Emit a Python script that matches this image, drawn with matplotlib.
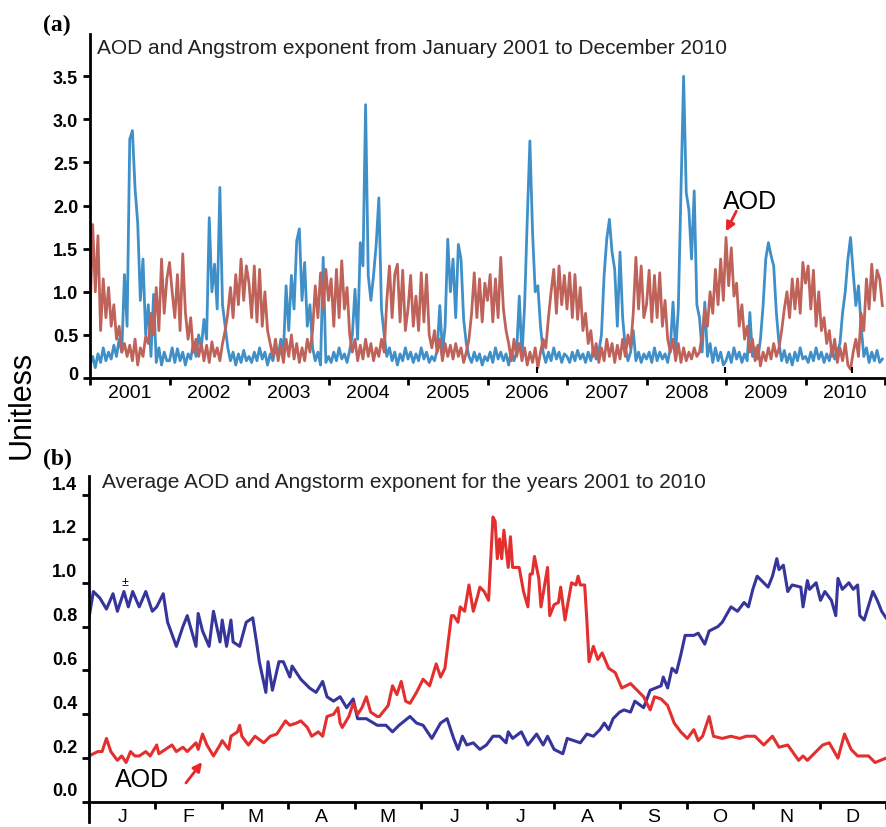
import numpy as np
import matplotlib
matplotlib.use('Agg')
from matplotlib import pyplot as plt
from matplotlib.transforms import ScaledTranslation

plt.rcParams['font.family'] = ['Liberation Sans', 'DejaVu Sans']

""" Data """

# panel (a): readings of the daily series, 30 per year (one row per year)
first_year = 2001
per_year = 30
ang_daily = [
    0.15, 0.25, 0.12, 0.28, 0.18, 0.35, 0.20, 0.30, 0.22, 0.38, 0.25, 0.45, 0.30, 1.20, 0.60, 2.77, 2.87, 2.20, 1.80, 0.90, 1.38, 0.50, 0.85, 0.25, 0.97, 0.18, 0.35, 0.15, 0.30, 0.20,
    0.20, 0.35, 0.18, 0.34, 0.20, 0.30, 0.15, 0.28, 0.22, 0.40, 0.25, 0.50, 0.35, 0.68, 0.45, 1.86, 1.00, 1.32, 0.80, 2.21, 0.85, 0.60, 0.35, 0.20, 0.30, 0.15, 0.28, 0.18, 0.32, 0.20,
    0.25, 0.18, 0.30, 0.20, 0.35, 0.22, 0.30, 0.15, 0.28, 0.20, 0.35, 0.25, 0.45, 0.30, 1.07, 0.55, 1.19, 0.80, 1.59, 1.73, 0.90, 1.34, 0.60, 0.85, 0.35, 0.20, 0.30, 0.15, 1.40, 0.18,
    0.25, 0.18, 0.30, 0.20, 0.35, 0.22, 0.28, 0.18, 0.32, 0.50, 1.03, 0.45, 1.57, 1.30, 3.17, 1.19, 0.90, 1.19, 1.55, 2.09, 0.80, 0.50, 0.25, 0.35, 0.20, 0.30, 0.15, 0.28, 0.20, 0.35,
    0.22, 0.30, 0.18, 0.28, 0.20, 0.35, 0.22, 0.30, 0.18, 0.25, 0.20, 0.32, 0.84, 0.30, 0.60, 1.61, 1.00, 1.38, 0.70, 1.55, 1.38, 0.68, 0.40, 0.25, 0.18, 0.30, 0.20, 0.28, 0.15, 0.25,
    0.20, 0.30, 0.18, 0.35, 0.22, 0.30, 0.20, 0.28, 0.15, 0.32, 0.20, 0.30, 0.95, 0.25, 0.84, 1.84, 2.75, 1.69, 1.00, 1.07, 0.60, 0.30, 0.18, 0.30, 0.20, 0.35, 0.22, 0.30, 0.18, 0.28,
    0.25, 0.18, 0.30, 0.20, 0.32, 0.22, 0.28, 0.18, 0.30, 0.20, 0.35, 0.22, 0.30, 0.50, 1.19, 1.61, 1.84, 1.46, 1.26, 0.60, 1.46, 0.70, 0.35, 0.20, 0.30, 0.55, 0.20, 0.30, 0.18, 0.28,
    0.22, 0.30, 0.18, 0.35, 0.20, 0.30, 0.22, 0.28, 0.18, 0.35, 0.88, 0.30, 0.80, 2.17, 3.50, 2.15, 1.95, 1.38, 2.17, 0.85, 0.70, 0.30, 0.88, 0.25, 0.40, 0.18, 0.35, 0.20, 0.30, 0.15,
    0.20, 0.30, 0.18, 0.35, 0.22, 0.30, 0.18, 0.28, 0.20, 0.76, 0.25, 0.35, 0.22, 0.45, 0.84, 1.38, 1.57, 1.42, 1.30, 0.76, 0.40, 0.20, 0.32, 0.18, 0.28, 0.15, 0.30, 0.20, 0.35, 0.22,
    0.25, 0.18, 0.30, 0.20, 0.35, 0.22, 0.30, 0.18, 0.28, 0.20, 0.35, 0.22, 0.30, 0.40, 0.76, 1.00, 1.38, 1.63, 1.22, 0.84, 1.07, 0.60, 0.25, 0.35, 0.18, 0.30, 0.20, 0.32, 0.18, 0.22,
]
aod_daily = [
    0.70, 1.78, 1.00, 1.65, 0.55, 1.15, 0.70, 1.05, 0.60, 0.85, 0.45, 0.60, 0.30, 0.40, 0.25, 0.38, 0.20, 0.45, 0.15, 0.35, 0.25, 0.48, 0.40, 0.75, 0.50, 1.05, 0.55, 1.38, 0.75, 1.15,
    1.34, 1.00, 0.70, 1.20, 0.55, 1.44, 0.76, 0.45, 0.70, 0.30, 0.45, 0.25, 0.40, 0.20, 0.38, 0.18, 0.42, 0.25, 0.35, 0.20, 0.40, 0.55, 0.75, 1.05, 0.70, 1.20, 0.85, 1.38, 0.90, 1.30,
    1.10, 0.70, 1.30, 0.65, 1.26, 0.60, 1.00, 0.55, 0.40, 0.25, 0.45, 0.20, 0.38, 0.18, 0.45, 0.25, 0.50, 0.22, 0.40, 0.18, 0.35, 0.20, 0.45, 0.30, 0.55, 1.07, 0.70, 1.22, 0.80, 1.26,
    0.90, 1.15, 0.60, 1.26, 0.70, 1.36, 0.80, 1.05, 0.50, 0.30, 0.45, 0.20, 0.38, 0.22, 0.45, 0.25, 0.40, 0.20, 0.35, 0.25, 0.45, 0.30, 0.90, 1.30, 0.70, 1.20, 1.32, 0.65, 1.25, 0.55,
    0.80, 1.19, 0.60, 0.95, 0.55, 1.22, 0.65, 1.20, 0.50, 0.35, 0.55, 0.30, 0.45, 0.20, 0.40, 0.25, 0.38, 0.22, 0.40, 0.25, 0.35, 0.18, 0.30, 0.45, 0.75, 1.22, 0.70, 1.15, 0.65, 1.10,
    0.90, 1.20, 0.65, 1.15, 0.70, 1.40, 0.80, 0.55, 0.40, 0.20, 0.45, 0.25, 0.40, 0.20, 0.35, 0.15, 0.30, 0.18, 0.35, 0.12, 0.30, 0.45, 0.35, 0.70, 1.00, 1.26, 0.75, 1.30, 0.85, 1.19,
    0.80, 1.22, 0.70, 1.20, 0.68, 1.05, 0.55, 0.75, 0.40, 0.55, 0.25, 0.40, 0.18, 0.35, 0.20, 0.45, 0.25, 0.40, 0.18, 0.38, 0.22, 0.45, 0.25, 0.50, 0.35, 0.75, 1.40, 0.80, 1.30, 0.70,
    0.85, 1.25, 0.65, 1.19, 0.70, 1.22, 0.60, 0.90, 0.45, 0.30, 0.45, 0.20, 0.40, 0.18, 0.35, 0.20, 0.30, 0.22, 0.35, 0.25, 0.30, 0.50, 0.80, 0.60, 1.00, 0.75, 1.26, 0.85, 1.38, 0.90,
    1.63, 1.07, 1.51, 0.95, 1.10, 0.60, 0.85, 0.45, 0.60, 0.30, 0.45, 0.20, 0.38, 0.14, 0.30, 0.20, 0.35, 0.22, 0.40, 0.25, 0.35, 0.55, 0.80, 1.00, 0.70, 1.15, 0.80, 1.15, 0.75, 1.34,
    1.10, 1.30, 0.80, 1.25, 0.60, 1.00, 0.55, 0.70, 0.40, 0.55, 0.25, 0.45, 0.18, 0.35, 0.20, 0.40, 0.15, 0.10, 0.30, 0.45, 0.25, 0.75, 0.55, 1.15, 0.80, 1.32, 0.90, 1.25, 1.15, 0.84,
]
mark_years = [2006.62, 2008.99, 2010.58]  # small black marks near the x axis

# panel (b): average year, day of year and value
ang_day = [0, 2, 5, 8, 11, 13, 16, 18, 20, 23, 26, 29, 31, 34, 36, 40, 43, 45, 49, 50,
           52, 55, 57, 60, 61, 63, 65, 66, 69, 72, 75, 77, 78, 81, 82, 84, 87, 89, 92, 93,
           97, 101, 104, 107, 109, 112, 115, 118, 121, 123, 127, 132, 136, 139, 142, 147, 150, 153, 157, 161,
           164, 167, 169, 171, 173, 176, 179, 182, 185, 188, 191, 192, 194, 198, 201, 205, 208, 210, 213, 217,
           219, 222, 225, 228, 231, 234, 236, 238, 240, 243, 245, 248, 250, 254, 257, 262, 263, 265, 267, 269,
           271, 273, 277, 279, 282, 284, 288, 290, 294, 297, 300, 302, 304, 306, 309, 311, 313, 315, 316, 318,
           320, 322, 326, 327, 329, 330, 333, 335, 337, 340, 342, 343, 345, 348, 350, 352, 353, 355, 359, 361,
           363, 365]
ang_mean = [0.84, 0.96, 0.93, 0.88, 0.95, 0.87, 0.96, 0.89, 0.96, 0.89, 0.96, 0.87, 0.89, 0.95, 0.82, 0.71, 0.80, 0.85, 0.71, 0.86,
            0.78, 0.71, 0.87, 0.73, 0.83, 0.71, 0.83, 0.73, 0.71, 0.82, 0.84, 0.71, 0.64, 0.50, 0.64, 0.51, 0.64, 0.64, 0.57, 0.62,
            0.56, 0.52, 0.50, 0.55, 0.48, 0.46, 0.48, 0.43, 0.47, 0.38, 0.38, 0.35, 0.35, 0.32, 0.35, 0.39, 0.36, 0.35, 0.29, 0.36,
            0.38, 0.29, 0.24, 0.30, 0.26, 0.27, 0.24, 0.26, 0.30, 0.30, 0.27, 0.32, 0.29, 0.32, 0.26, 0.31, 0.26, 0.30, 0.24, 0.22,
            0.29, 0.28, 0.27, 0.31, 0.30, 0.33, 0.36, 0.33, 0.38, 0.41, 0.42, 0.41, 0.46, 0.43, 0.51, 0.53, 0.57, 0.52, 0.61, 0.59,
            0.67, 0.76, 0.76, 0.77, 0.72, 0.78, 0.80, 0.82, 0.89, 0.87, 0.91, 0.89, 0.97, 1.03, 1.00, 0.98, 1.03, 1.11, 1.06, 1.08,
            0.96, 0.99, 0.98, 0.89, 1.01, 0.97, 1.00, 0.92, 0.96, 0.92, 0.85, 1.02, 0.97, 1.00, 0.97, 0.99, 0.85, 0.83, 0.96, 0.92,
            0.87, 0.84]
aod_day = [0, 4, 6, 8, 10, 13, 15, 17, 19, 21, 23, 26, 28, 31, 32, 35, 38, 40, 43, 45,
           49, 50, 52, 54, 57, 60, 61, 64, 65, 68, 69, 70, 73, 76, 80, 83, 86, 90, 92, 95,
           97, 100, 102, 105, 107, 109, 112, 114, 115, 116, 119, 121, 123, 125, 127, 129, 132, 133, 137, 139,
           141, 143, 145, 147, 150, 153, 156, 159, 161, 163, 164, 166, 167, 169, 170, 172, 174, 176, 178, 179,
           181, 183, 185, 186, 187, 188, 189, 190, 192, 193, 194, 197, 199, 201, 202, 203, 204, 206, 207, 210,
           211, 213, 215, 216, 218, 219, 221, 223, 224, 225, 227, 228, 229, 231, 233, 235, 238, 241, 244, 248,
           251, 254, 257, 259, 262, 265, 268, 271, 274, 277, 279, 281, 284, 286, 290, 294, 298, 301, 305, 309,
           313, 316, 320, 325, 327, 329, 333, 336, 339, 343, 346, 349, 352, 354, 357, 360, 365]
aod_mean = [0.21, 0.23, 0.23, 0.29, 0.23, 0.19, 0.21, 0.18, 0.23, 0.21, 0.21, 0.23, 0.21, 0.26, 0.22, 0.24, 0.26, 0.23, 0.25, 0.23,
            0.27, 0.24, 0.31, 0.26, 0.21, 0.26, 0.28, 0.24, 0.30, 0.32, 0.35, 0.30, 0.26, 0.30, 0.27, 0.30, 0.31, 0.37, 0.35, 0.36,
            0.37, 0.34, 0.30, 0.32, 0.30, 0.39, 0.40, 0.43, 0.36, 0.34, 0.39, 0.45, 0.40, 0.43, 0.48, 0.41, 0.39, 0.39, 0.44, 0.53,
            0.49, 0.55, 0.46, 0.45, 0.50, 0.56, 0.53, 0.63, 0.57, 0.61, 0.69, 0.85, 0.85, 0.82, 0.89, 0.87, 0.99, 0.87, 0.94, 0.98,
            0.96, 0.92, 1.30, 1.28, 1.11, 1.20, 1.11, 1.24, 1.07, 1.21, 1.07, 1.07, 0.96, 0.89, 1.04, 1.04, 1.12, 1.02, 0.89, 1.07,
            0.85, 0.90, 0.91, 0.98, 0.83, 0.89, 1.00, 0.99, 1.03, 0.99, 0.99, 0.83, 0.64, 0.71, 0.65, 0.68, 0.61, 0.59, 0.52, 0.54,
            0.51, 0.48, 0.42, 0.48, 0.47, 0.44, 0.36, 0.32, 0.29, 0.33, 0.28, 0.30, 0.39, 0.30, 0.29, 0.30, 0.29, 0.30, 0.30, 0.26,
            0.30, 0.25, 0.26, 0.19, 0.21, 0.19, 0.23, 0.26, 0.27, 0.20, 0.31, 0.24, 0.21, 0.21, 0.21, 0.18, 0.20]

months = ['J', 'F', 'M', 'A', 'M', 'J', 'J', 'A', 'S', 'O', 'N', 'D']
ticks_a = [0, 0.5, 1.0, 1.5, 2.0, 2.5, 3.0, 3.5]
ticks_b = [0.0, 0.2, 0.4, 0.6, 0.8, 1.0, 1.2, 1.4]

""" Plot """

blue_a, red_a = '#3f8fc9', '#bf635a'
blue_b, red_b = '#35359b', '#e3302f'
arrow_red = '#e8262a'

fig = plt.figure(figsize=(8.87, 8.28), dpi=100)
ax1 = fig.add_axes([90 / 887, 1 - 379 / 828, 795 / 887, 344 / 828])
ax2 = fig.add_axes([89 / 887, 1 - 803 / 828, 797 / 887, 326 / 828])

for ax in (ax1, ax2):
    for side in ('top', 'right'):
        ax.spines[side].set_visible(False)
    for side in ('left', 'bottom'):
        ax.spines[side].set_linewidth(2.0)
    ax.tick_params(which='major', direction='out', length=5, width=2)
    ax.tick_params(which='minor', length=0, labelsize=14, pad=4)

# (a) ten years of daily data
t = first_year + np.arange(len(ang_daily)) / per_year
ax1.plot(t, ang_daily, color=blue_a, lw=2.0)
ax1.plot(t, aod_daily, color=red_a, lw=2.0)
ax1.vlines(mark_years, 0.06, 0.13, color='black', lw=1.5)
ax1.set_xlim(first_year, first_year + 10)
ax1.set_ylim(0, 3.99)
ax1.set_yticks(ticks_a)
ax1.set_yticklabels(['0' if v == 0 else f'{v:.1f}' for v in ticks_a], fontweight='bold', fontsize=13)
zero_lab = ax1.get_yticklabels()[0]
zero_lab.set_transform(zero_lab.get_transform() + ScaledTranslation(0, 5 / 100, fig.dpi_scale_trans))
ax1.set_xticks(np.arange(first_year, first_year + 11))
ax1.set_xticklabels([])
ax1.set_xticks(np.arange(first_year, first_year + 10) + 0.5, minor=True)
ax1.set_xticklabels([str(y) for y in range(first_year, first_year + 10)], minor=True)

ax1.text(2008.96, 2.05, 'AOD', fontsize=18, ha='left', va='center')
ax1.annotate('', xy=(2009.0, 1.70), xytext=(2009.13, 1.935),
             arrowprops=dict(arrowstyle='-|>', color=arrow_red, lw=2, mutation_scale=13,
                             shrinkA=0, shrinkB=0))

# (b) average year
ax2.plot(ang_day, ang_mean, color=blue_b, lw=2.2)
ax2.plot(aod_day, aod_mean, color=red_b, lw=2.2)
ax2.set_xlim(0, 365)
ax2.set_ylim(0, 1.487)
ax2.set_yticks(ticks_b)
ax2.set_yticklabels([f'{v:.1f}' for v in ticks_b], fontweight='bold', fontsize=13)
shift = ScaledTranslation(0, 13 / 100, fig.dpi_scale_trans)
for lab in ax2.get_yticklabels():
    lab.set_transform(lab.get_transform() + shift)
month_len = 365 / 12
ax2.set_xticks(np.arange(13) * month_len)
ax2.set_xticklabels([])
ax2.set_xticks((np.arange(12) + 0.5) * month_len, minor=True)
ax2.set_xticklabels(months, minor=True)
ax2.plot([0, 0], [-20 / 326, 0], transform=ax2.transAxes, color='black', lw=2, clip_on=False)

ax2.text(11.9, 0.105, 'AOD', fontsize=18, ha='left', va='center')
ax2.annotate('', xy=(51.8, 0.182), xytext=(44.4, 0.087),
             arrowprops=dict(arrowstyle='-|>', color=arrow_red, lw=2, mutation_scale=13,
                             shrinkA=0, shrinkB=0))
ax2.text(16.5, 1.003, '±', fontsize=9, ha='center', va='center')

# titles and panel labels
fig.text(97 / 887, 1 - 48 / 828, 'AOD and Angstrom exponent from January 2001 to December 2010',
         fontsize=15, va='center', ha='left', color='#222222')
fig.text(102 / 887, 1 - 483 / 828, 'Average AOD and Angstorm exponent for the years 2001 to 2010',
         fontsize=15, va='center', ha='left', color='#222222')
fig.text(43 / 887, 1 - 25 / 828, '(a)', family='Liberation Serif', fontweight='bold', fontsize=17, va='center')
fig.text(43 / 887, 1 - 459 / 828, '(b)', family='Liberation Serif', fontweight='bold', fontsize=17, va='center')
fig.text(22 / 887, 1 - 405 / 828, 'Unitless', rotation=90, fontsize=22, va='center', ha='center')

plt.savefig('out.png', dpi=100)
